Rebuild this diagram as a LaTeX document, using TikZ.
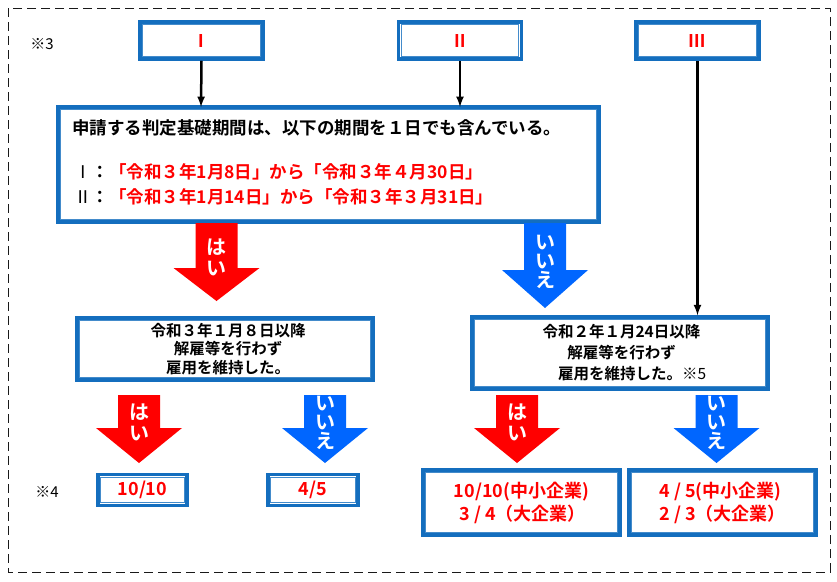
\documentclass[tikz,border=0pt]{standalone}
\usepackage{fontspec}
\newfontfamily\jp{Noto Sans CJK JP}[BoldFont={* Bold}]
\definecolor{bblue}{RGB}{20,110,190}
\definecolor{ared}{RGB}{255,0,0}
\definecolor{ablue}{RGB}{0,102,255}
\newcommand\bigarrow[7]{% center, top, headstart, tip, shaft halfw, head halfw, color
  \fill[#7] (#1-#5,#2) -- (#1+#5,#2) -- (#1+#5,#3) -- (#1+#6,#3) -- (#1,#4) -- (#1-#6,#3) -- (#1-#5,#3) -- cycle;}
\begin{document}
\begin{tikzpicture}[x=1pt,y=-1pt,font=\jp\bfseries\fontsize{17.5}{21}\selectfont,
  dbox/.style={draw=bblue,line width=3.5pt,fill=white,inner sep=0pt},
  ibox/.style={draw=bblue!80,line width=1pt},
  conn/.style={-latex,line width=2.5pt},
  txt/.style={inner sep=0pt,align=center},
  lab/.style={txt,text=white,font=\jp\bfseries\fontsize{20}{24}\selectfont},
  rt/.style={text=ared}]
\useasboundingbox (0,0) rectangle (837,581);
\draw[dash pattern=on 9pt off 5pt,line width=1pt,gray!20!black] (8,8) rectangle (830,572);
\node[font=\jp\fontsize{15}{17}\selectfont] (n3) at (42,44) {※3};
\node[font=\jp\fontsize{15}{17}\selectfont] (n4) at (47,492) {※4};
% top boxes
\foreach \n/\x/\t in {b1/201.5/Ⅰ,b2/460/Ⅱ,b3/697.5/Ⅲ}{
  \node[dbox,minimum width=123,minimum height=37,text=ared] (\n) at (\x,40.5) {\t};
  \draw[ibox] ([shift={(4.5,4.5)}]\n.north west) rectangle ([shift={(-4.5,-4.5)}]\n.south east);}
% main box
\node[dbox,minimum width=541,minimum height=115] (m) at (328.5,164.5) {};
\draw[ibox] ([shift={(4.5,4.5)}]m.north west) rectangle ([shift={(-4.5,-4.5)}]m.south east);
\node[txt,anchor=west] (m1) at (72,128) {申請する判定基礎期間は、以下の期間を１日でも含んでいる。};
\node[txt,anchor=west] (m2) at (74,172) {\mdseries Ⅰ\bfseries ：\textcolor{ared}{「令和３年1月8日」から「令和３年４月30日」}};
\node[txt,anchor=west] (m3) at (74,197) {\mdseries Ⅱ\bfseries ：\textcolor{ared}{「令和３年1月14日」から「令和３年３月31日」}};
\coordinate (m1top) at (201,107); \coordinate (m2top) at (460,107);
\draw[conn] (b1.south) -- (m1top);
\draw[conn] (b2.south) -- (m2top);
% middle boxes
\node[dbox,minimum width=296,minimum height=62] (l) at (225,349) {};
\draw[ibox] ([shift={(4.5,4.5)}]l.north west) rectangle ([shift={(-4.5,-4.5)}]l.south east);
\node[txt,font=\jp\bfseries\fontsize{15.5}{18.5}\selectfont] (lt) at (228,349) {令和３年１月８日以降\\解雇等を行わず\\雇用を維持した。};
\node[dbox,minimum width=296,minimum height=72] (r) at (620,353) {};
\draw[ibox] ([shift={(4.5,4.5)}]r.north west) rectangle ([shift={(-4.5,-4.5)}]r.south east);
\node[txt,font=\jp\bfseries\fontsize{15.5}{21}\selectfont,align=left] (rt) at (622,353) {\hspace*{0.3em}令和２年１月24日以降\\\hspace*{1.9em}解雇等を行わず\\\hspace*{1.3em}雇用を維持した。\mdseries ※5};
\draw[conn] (b3.south) -- (r.north -| b3.south);
% big arrows
\bigarrow{216.5}{223}{268}{301}{21}{43}{ared}
\node[lab] (a1) at (216.5,257) {は\\[-3pt]い};
\bigarrow{545}{223}{270}{308}{21}{43}{ablue}
\node[lab] (a2) at (545,262) {い\\[-5pt]い\\[-5pt]え};
\bigarrow{139}{395}{428}{463}{21}{43}{ared}
\node[lab] (a3) at (139,422) {は\\[-3pt]い};
\bigarrow{325}{395}{428}{463}{21}{43}{ablue}
\node[lab] (a4) at (325,423) {い\\[-5pt]い\\[-5pt]え};
\bigarrow{517}{395}{428}{463}{21}{43}{ared}
\node[lab] (a5) at (517,422) {は\\[-3pt]い};
\bigarrow{716.5}{395}{428}{463}{21}{43}{ablue}
\node[lab] (a6) at (716.5,423) {い\\[-5pt]い\\[-5pt]え};
% bottom boxes
\foreach \n/\x/\y/\w/\h in {c1/142.5/490/89/31,c2/313/490/90/31,c3/521.5/502.5/197/65,c4/722.5/502.5/187/65}{
  \node[dbox,minimum width=\w,minimum height=\h] (\n) at (\x,\y) {};
  \draw[ibox] ([shift={(4.5,4.5)}]\n.north west) rectangle ([shift={(-4.5,-4.5)}]\n.south east);}
\node[txt,rt,font=\jp\bfseries\fontsize{18}{22}\selectfont] at (c1) {10/10};
\node[txt,rt,font=\jp\bfseries\fontsize{18}{22}\selectfont] at (c2) {4/5};
\node[txt,rt,font=\jp\bfseries\fontsize{18}{23}\selectfont,align=left] at (c3) {10/10(中小企業)\\\hspace*{0.3em}3 / 4（大企業）};
\node[txt,rt,font=\jp\bfseries\fontsize{18}{23}\selectfont,align=left] at (c4) {4 / 5(中小企業)\\2 / 3（大企業）};
\end{tikzpicture}
\end{document}
